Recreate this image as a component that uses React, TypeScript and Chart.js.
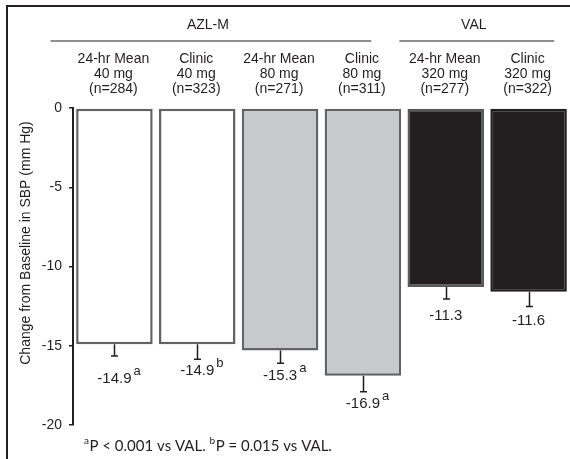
import { useEffect, useRef } from "react";
import { Chart, registerables } from "chart.js";

Chart.register(...registerables);

const groupNames = ["AZL-M", "VAL"];
const categoryLines = [
  ["24-hr Mean", "40 mg", "(n=284)"],
  ["Clinic", "40 mg", "(n=323)"],
  ["24-hr Mean", "80 mg", "(n=271)"],
  ["Clinic", "80 mg", "(n=311)"],
  ["24-hr Mean", "320 mg", "(n=277)"],
  ["Clinic", "320 mg", "(n=322)"],
];
const values = [-14.9, -14.9, -15.3, -16.9, -11.3, -11.6];
const errors = [0.75, 0.95, 0.8, 1.0, 0.75, 0.93];
const valueLabels = ["-14.9", "-14.9", "-15.3", "-16.9", "-11.3", "-11.6"];
const superscripts = ["a", "b", "a", "a", "", ""];
const yTickValues = [0, -5, -10, -15, -20];
const yTitle = "Change from Baseline in SBP (mm Hg)";
const footnoteParts = [
  { sup: "a", text: "P < 0.001 vs VAL. " },
  { sup: "b", text: "P = 0.015 vs VAL." },
];

const INK = "#231f20";
const SANS = "'Liberation Sans', Arial, sans-serif";

const decorPlugin = {
  id: "decor",
  afterDraw(chart: any) {
    const ctx = chart.ctx as CanvasRenderingContext2D;
    const x = chart.scales.x;
    const y = chart.scales.y;
    const meta = chart.getDatasetMeta(0);
    const pitch = x.getPixelForValue(1) - x.getPixelForValue(0);
    const cx = (i: number) => x.getPixelForValue(0) + i * pitch;

    ctx.save();
    // outer frame (left & top edges only visible)
    ctx.strokeStyle = INK;
    ctx.lineWidth = 2;
    ctx.beginPath();
    ctx.moveTo(7, 460);
    ctx.lineTo(7, 6);
    ctx.lineTo(571, 6);
    ctx.stroke();

    // group labels and lines
    ctx.fillStyle = INK;
    ctx.textAlign = "center";
    ctx.textBaseline = "middle";
    ctx.font = `14px ${SANS}`;
    const groupSpans = [
      [cx(-0.77), cx(3.1)],
      [cx(3.44), cx(5.31)],
    ];
    ctx.lineWidth = 1.2;
    groupSpans.forEach((s, gi) => {
      ctx.beginPath();
      ctx.moveTo(s[0], 41);
      ctx.lineTo(s[1], 41);
      ctx.stroke();
      ctx.fillText(groupNames[gi], (s[0] + s[1]) / 2 - 3, 25);
    });

    // category labels
    categoryLines.forEach((lines, i) => {
      lines.forEach((t, li) => {
        ctx.fillText(t, cx(i) - 1, 59 + li * 15);
      });
    });

    // error bars
    ctx.lineWidth = 1.5;
    meta.data.forEach((bar: any, i: number) => {
      const bx = Math.round(bar.x) + 0.5;
      const y0 = y.getPixelForValue(values[i]);
      const y1 = y.getPixelForValue(values[i] - errors[i]);
      ctx.beginPath();
      ctx.moveTo(bx, y0);
      ctx.lineTo(bx, y1);
      ctx.moveTo(bx - 3.5, y1);
      ctx.lineTo(bx + 3.5, y1);
      ctx.stroke();
    });

    // value labels
    const gaps = [23, 12, 13, 12, 17, 14];
    meta.data.forEach((bar: any, i: number) => {
      const y1 = y.getPixelForValue(values[i] - errors[i]);
      const ty = y1 + gaps[i];
      ctx.font = `15px ${SANS}`;
      ctx.textAlign = "center";
      ctx.textBaseline = "middle";
      ctx.fillText(valueLabels[i], bar.x, ty);
      if (superscripts[i]) {
        const w = ctx.measureText(valueLabels[i]).width;
        ctx.font = `13px ${SANS}`;
        ctx.textAlign = "left";
        ctx.textBaseline = "alphabetic";
        ctx.fillText(superscripts[i], bar.x + w / 2 + 2, ty + 5.5 - 9.5);
      }
    });

    // y title
    ctx.save();
    ctx.translate(26, 243);
    ctx.rotate(-Math.PI / 2);
    ctx.font = `14px ${SANS}`;
    ctx.textAlign = "center";
    ctx.textBaseline = "middle";
    ctx.fillText(yTitle, 0, 0);
    ctx.restore();

    // footnote
    let fx = 84;
    const fy = 451;
    ctx.textAlign = "left";
    ctx.textBaseline = "alphabetic";
    footnoteParts.forEach((p) => {
      ctx.font = `10px Lato, sans-serif`;
      ctx.fillText(p.sup, fx, fy - 7);
      fx += ctx.measureText(p.sup).width + 0.5;
      ctx.font = `15px Lato, sans-serif`;
      ctx.fillText(p.text, fx, fy);
      fx += ctx.measureText(p.text).width;
    });
    ctx.restore();
  },
};

export default function App() {
  const ref = useRef<HTMLCanvasElement>(null);
  useEffect(() => {
    if (!ref.current) return;
    const chart = new Chart(ref.current, {
      type: "bar",
      data: {
        labels: categoryLines.map((l) => l.join(" ")),
        datasets: [
          {
            data: values,
            backgroundColor: ["#ffffff", "#ffffff", "#c8c9cb", "#c8c9cb", INK, INK],
            borderColor: ["#636363", "#636363", "#636363", "#636363", "#5a5a5a", INK],
            borderWidth: 2.5,
            borderSkipped: false,
            barPercentage: 0.924,
            categoryPercentage: 1,
          },
        ],
      },
      options: {
        animation: false,
        responsive: false,
        maintainAspectRatio: false,
        layout: { padding: { top: 108, bottom: 34, left: 0, right: 0 } },
        plugins: { legend: { display: false }, tooltip: { enabled: false } },
        scales: {
          x: { display: false },
          y: {
            min: -20,
            max: 0,
            afterBuildTicks: (s: any) => {
              s.ticks = yTickValues.map((v) => ({ value: v }));
            },
            afterFit: (s: any) => {
              s.width = 73;
            },
            ticks: {
              color: INK,
              font: { size: 14, family: SANS },
              padding: 7,
            },
            grid: {
              display: true,
              drawOnChartArea: false,
              drawTicks: true,
              tickLength: 4,
              color: INK,
              lineWidth: 1.5,
            },
            border: { display: true, color: INK, width: 2 },
          },
        },
      },
      plugins: [decorPlugin],
    });
    return () => chart.destroy();
  }, []);
  return (
    <div style={{ position: "fixed", left: 0, top: 0, width: 570, height: 459, background: "#fff" }}>
      <canvas ref={ref} width={570} height={459} style={{ width: 570, height: 459 }} />
    </div>
  );
}
